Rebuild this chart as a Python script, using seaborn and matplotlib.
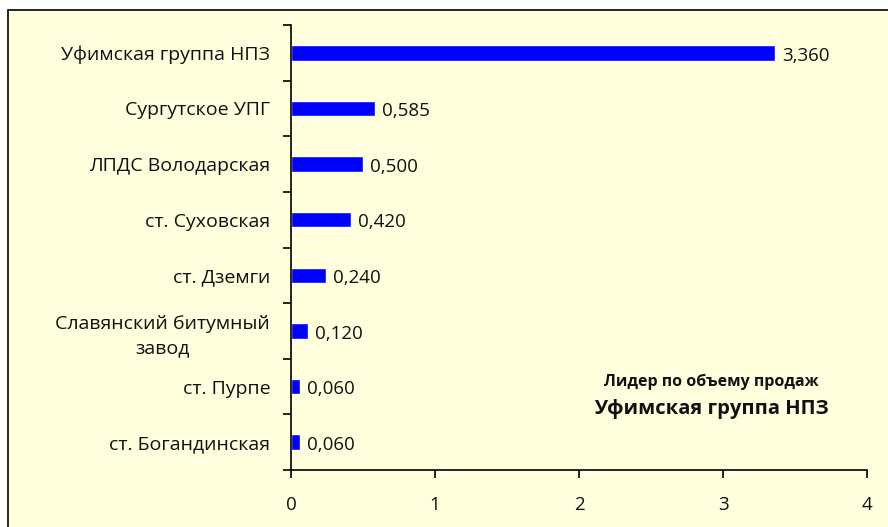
import matplotlib
matplotlib.use("Agg")
import matplotlib.pyplot as plt
import matplotlib.patches as mpatches
import numpy as np
import pandas as pd
import seaborn as sns

# data
plants = [
    "Уфимская группа НПЗ",
    "Сургутское УПГ",
    "ЛПДС Володарская",
    "ст. Суховская",
    "ст. Дземги",
    "Славянский битумный\nзавод",
    "ст. Пурпе",
    "ст. Богандинская",
]
volumes = [3.360, 0.585, 0.500, 0.420, 0.240, 0.120, 0.060, 0.060]
x_ticks = [0, 1, 2, 3, 4]
leader_title = "Лидер по объему продаж"
leader_name = "Уфимская группа НПЗ"

df = pd.DataFrame({"plant": plants, "volume": volumes})

sns.set_theme(style="white")
plt.rcParams["font.family"] = ["Open Sans", "DejaVu Sans"]

bg = "#FFFFDE"
fig = plt.figure(figsize=(8.88, 5.27), dpi=100)
fig.patch.set_facecolor("white")

# chart frame like Excel chart area
frame = mpatches.Rectangle((8 / 888, -0.1), 1.2, (1 - 10 / 527) + 0.1,
                           transform=fig.transFigure, facecolor=bg,
                           edgecolor="black", linewidth=1.2, zorder=-10)
fig.patches.append(frame)

ax = fig.add_axes([291 / 888, 1 - 470 / 527, (867 - 291) / 888, (470 - 25) / 527])
ax.set_facecolor(bg)
ax.patch.set_alpha(0)

sns.barplot(data=df, x="volume", y="plant", color="#0000FF", width=0.28,
            saturation=1, ax=ax, orient="h")

ax.set_xlim(0, 4)
ax.set_ylim(len(plants) - 0.5, -0.5)
ax.set_xticks(x_ticks)
ax.set_xticklabels([str(t) for t in x_ticks])
ax.set_xlabel("")
ax.set_ylabel("")

for s in ["top", "right"]:
    ax.spines[s].set_visible(False)
for s in ["left", "bottom"]:
    ax.spines[s].set_color("black")
    ax.spines[s].set_linewidth(1.2)

ax.tick_params(axis="y", which="major", length=0, pad=15, labelsize=14, labelcolor="#111111")
ax.set_yticks(np.arange(-0.5, len(plants), 1.0), minor=True)
ax.tick_params(axis="y", which="minor", length=6, width=1.2, color="black", direction="out", left=True)
ax.tick_params(axis="x", which="major", length=6, width=1.2, color="black", direction="out",
               bottom=True, pad=13, labelsize=13.5, labelcolor="#111111")
for lab in ax.get_yticklabels():
    lab.set_multialignment("center")
    lab.set_linespacing(1.45)

for p, v in zip(ax.patches, volumes):
    y = p.get_y() + p.get_height() / 2
    ax.annotate(f"{v:.3f}".replace(".", ","), (p.get_width(), y),
                xytext=(5, -2), textcoords="offset points",
                ha="left", va="center", fontsize=13.5, color="#111111")

ax.text(0.73, 0.198, leader_title, transform=ax.transAxes, ha="center", va="center",
        fontsize=11.5, fontweight="bold", color="#111111")
ax.text(0.73, 0.136, leader_name, transform=ax.transAxes, ha="center", va="center",
        fontsize=14.5, fontweight="bold", color="#111111")

fig.savefig("out.png", dpi=100, facecolor="white")
